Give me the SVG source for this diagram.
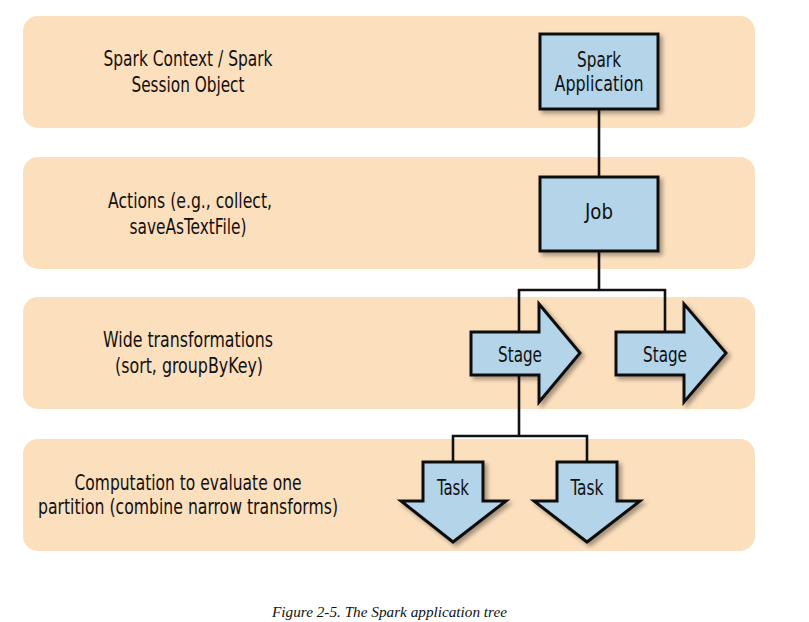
<svg xmlns="http://www.w3.org/2000/svg" width="809" height="622" viewBox="0 0 809 622">
<defs>
<style>
.band{fill:#FCDFBD;}
.node{fill:#B4D4EA;stroke:#111;stroke-width:3;stroke-linejoin:miter;filter:url(#sh);}
.conn{fill:none;stroke:#111;stroke-width:2.6;}
.lbl{font-family:"DejaVu Sans",sans-serif;font-stretch:condensed;font-size:20.5px;fill:#111;text-anchor:middle;}
.cap{font-family:"Liberation Serif","Times New Roman",serif;font-style:italic;font-size:14px;fill:#111;}
</style>
<filter id="sh" x="-20%" y="-20%" width="150%" height="150%">
<feDropShadow dx="3" dy="3" stdDeviation="2" flood-color="#000" flood-opacity="0.35"/>
</filter>
</defs>
<rect width="809" height="622" fill="#fff"/>
<g id="bands">
<rect class="band" x="23" y="16" width="732" height="112" rx="15"/>
<rect class="band" x="23" y="157" width="732" height="112" rx="15"/>
<rect class="band" x="23" y="297" width="732" height="112" rx="15"/>
<rect class="band" x="23" y="439" width="732" height="112" rx="15"/>
</g>
<g id="level-labels">
<text class="lbl" x="188" y="66" textLength="169" lengthAdjust="spacingAndGlyphs">Spark Context / Spark</text>
<text class="lbl" x="188" y="92" textLength="113" lengthAdjust="spacingAndGlyphs">Session Object</text>
<text class="lbl" x="190" y="208" textLength="164" lengthAdjust="spacingAndGlyphs">Actions (e.g., collect,</text>
<text class="lbl" x="188" y="234" textLength="117" lengthAdjust="spacingAndGlyphs">saveAsTextFile)</text>
<text class="lbl" x="188" y="347" textLength="170" lengthAdjust="spacingAndGlyphs">Wide transformations</text>
<text class="lbl" x="189" y="373" textLength="148" lengthAdjust="spacingAndGlyphs">(sort, groupByKey)</text>
<text class="lbl" x="188" y="490" textLength="227" lengthAdjust="spacingAndGlyphs">Computation to evaluate one</text>
<text class="lbl" x="188" y="514" textLength="300" lengthAdjust="spacingAndGlyphs">partition (combine narrow transforms)</text>
</g>
<g id="connectors">
<line class="conn" x1="599" y1="109" x2="599" y2="177"/>
<polyline class="conn" points="599,251 599,290"/>
<polyline class="conn" points="519,334 519,290 665,290 665,334"/>
<polyline class="conn" points="519,374 519,436"/>
<polyline class="conn" points="453,464 453,436 587,436 587,464"/>
</g>
<g id="spark-application">
<rect class="node" x="540" y="34" width="118" height="75"/>
<text class="lbl" x="599" y="67" textLength="44" lengthAdjust="spacingAndGlyphs">Spark</text>
<text class="lbl" x="599" y="91" textLength="89" lengthAdjust="spacingAndGlyphs">Application</text>
</g>
<g id="job">
<rect class="node" x="540" y="177" width="118" height="74"/>
<text class="lbl" x="599" y="219" textLength="28" lengthAdjust="spacingAndGlyphs">Job</text>
</g>
<g id="stage-1">
<polygon class="node" points="471,332 539,332 539,304 580,353 539,402 539,375 471,375"/>
<text class="lbl" x="520" y="362" textLength="44" lengthAdjust="spacingAndGlyphs">Stage</text>
</g>
<g id="stage-2">
<polygon class="node" points="616,332 684,332 684,304 726,353 684,402 684,375 616,375"/>
<text class="lbl" x="665" y="362" textLength="44" lengthAdjust="spacingAndGlyphs">Stage</text>
</g>
<g id="task-1">
<polygon class="node" points="423,462 483,462 483,501 506,501 453,542 401,501 423,501"/>
<text class="lbl" x="453" y="495" textLength="32" lengthAdjust="spacingAndGlyphs">Task</text>
</g>
<g id="task-2">
<polygon class="node" points="557,462 617,462 617,501 640,501 587,542 534,501 557,501"/>
<text class="lbl" x="587" y="495" textLength="33" lengthAdjust="spacingAndGlyphs">Task</text>
</g>
<text class="cap" x="272" y="617" textLength="235" lengthAdjust="spacingAndGlyphs">Figure 2-5. The Spark application tree</text>
</svg>
